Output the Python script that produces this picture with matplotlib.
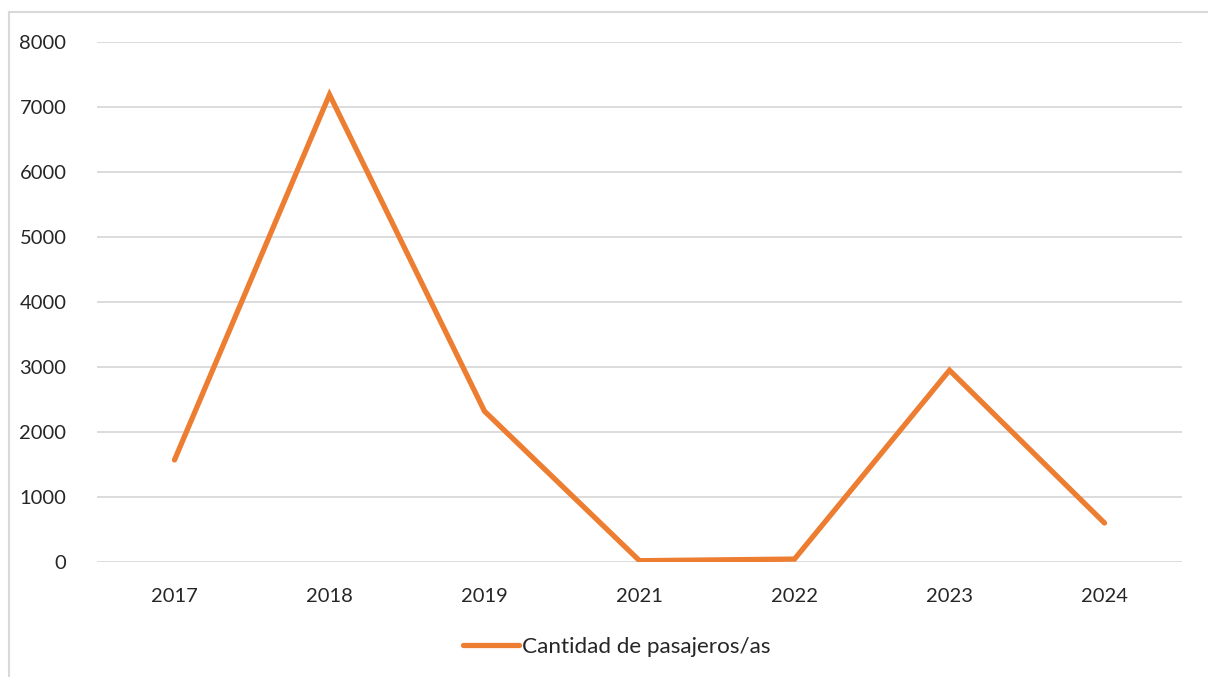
import matplotlib
matplotlib.use("Agg")
import matplotlib.pyplot as plt
from matplotlib.lines import Line2D

years = ["2017", "2018", "2019", "2021", "2022", "2023", "2024"]
pasajeros = [1570, 7190, 2320, 20, 45, 2950, 600]
yticks = [0, 1000, 2000, 3000, 4000, 5000, 6000, 7000, 8000]

W, H = 1208, 677
fig = plt.figure(figsize=(W / 100, H / 100), dpi=100)
plt.rcParams['font.family'] = ['Lato', 'DejaVu Sans']

ax = fig.add_axes([97 / W, 1 - 562 / H, (1182 - 97) / W, (562 - 42) / H])
x = list(range(len(years)))
ax.plot(x, pasajeros, color="#ED7D31", lw=3.8, solid_capstyle="round",
        solid_joinstyle="miter", label="Cantidad de pasajeros/as", zorder=3)

ax.set_xlim(-0.5, len(years) - 0.5)
ax.set_ylim(0, 8000)
ax.set_yticks(yticks)
ax.set_yticklabels([str(v) for v in yticks])
ax.set_xticks(x)
ax.set_xticklabels(years)
ax.grid(axis="y", color="#D9D9D9", lw=1.3)
ax.set_axisbelow(True)
for s in ax.spines.values():
    s.set_visible(False)
ax.tick_params(axis="both", length=0, labelsize=14.5, colors="#262626")
ax.tick_params(axis="y", pad=22)
ax.tick_params(axis="x", pad=19)

leg = ax.legend(loc="center", bbox_to_anchor=(0.479, -0.164), frameon=False,
                fontsize=16.2, handlelength=2.5, handletextpad=0.1,
                labelcolor="#262626")

# outer chart frame (left and top edges)
fig.add_artist(Line2D([9 / W, 9 / W], [0, 1 - 12 / H], color="#D9D9D9", lw=1.5,
                      transform=fig.transFigure))
fig.add_artist(Line2D([9 / W, 1], [1 - 12 / H, 1 - 12 / H], color="#D9D9D9", lw=1.5,
                      transform=fig.transFigure))

fig.savefig("out.png", dpi=100)
